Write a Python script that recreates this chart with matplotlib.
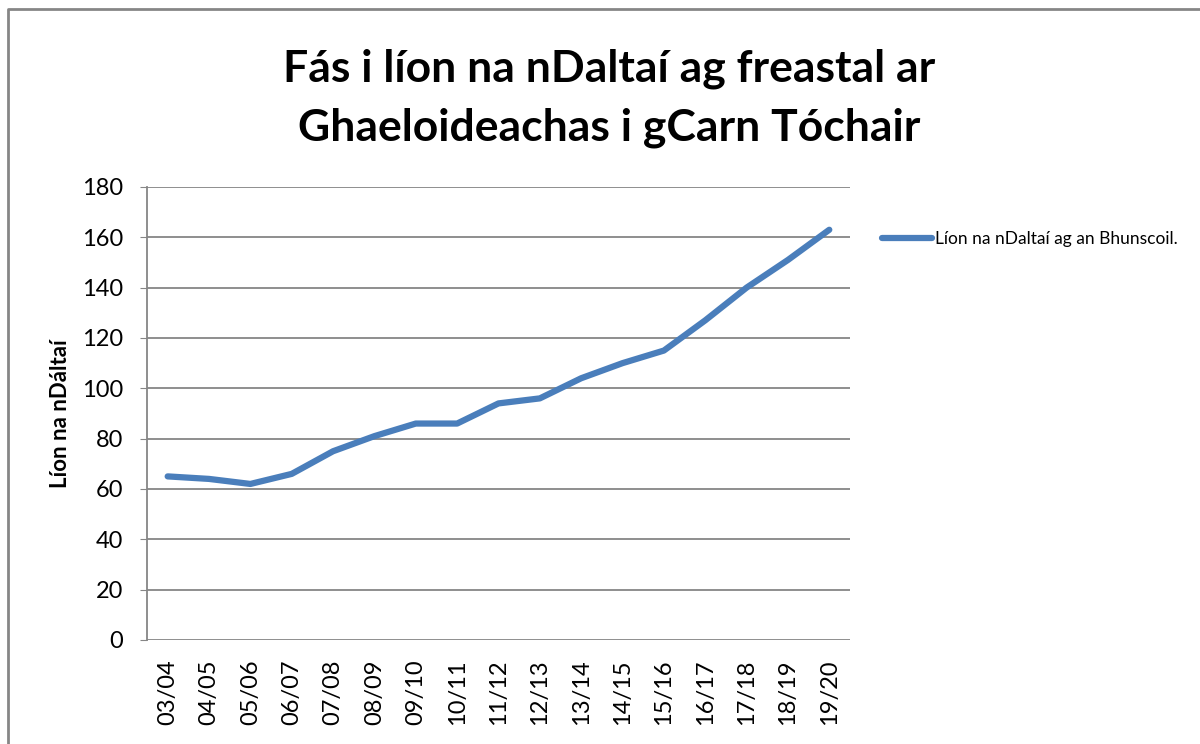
import matplotlib
matplotlib.use('Agg')
import matplotlib.pyplot as plt
from matplotlib.lines import Line2D

plt.rcParams['font.family'] = ['Lato', 'DejaVu Sans']

years = ['03/04', '04/05', '05/06', '06/07', '07/08', '08/09', '09/10', '10/11',
         '11/12', '12/13', '13/14', '14/15', '15/16', '16/17', '17/18', '18/19', '19/20']
pupils = [65, 64, 62, 66, 75, 81, 86, 86, 94, 96, 104, 110, 115, 127, 140, 151, 163]
series_name = 'Líon na nDaltaí ag an Bhunscoil.'
title = 'Fás i líon na nDaltaí ag freastal ar\nGhaeloideachas i gCarn Tóchair'
ylabel = 'Líon na nDáltaí'

fig = plt.figure(figsize=(12, 7.44), dpi=100)
ax = fig.add_axes([0.1225, 0.1398, 0.5858, 0.6089])

x = range(len(years))
ax.plot(x, pupils, color='#4a7ebb', linewidth=4.5, solid_capstyle='round',
        solid_joinstyle='round', label=series_name)

ax.set_xlim(-0.5, len(years) - 0.5)
ax.set_ylim(0, 180)
ax.set_yticks(range(0, 181, 20))
ax.set_xticks(list(x))
ax.set_xticklabels(years, rotation=90, fontsize=17)
ax.tick_params(axis='y', labelsize=17, length=5, color='#868686', pad=12)
ax.tick_params(axis='x', length=0, pad=14)
ax.yaxis.grid(True, color='#868686', linewidth=1.3)
ax.set_axisbelow(True)
for side in ['top', 'right', 'bottom']:
    ax.spines[side].set_visible(False)
ax.spines['left'].set_color('#868686')
ax.spines['left'].set_linewidth(1.3)

ax.set_ylabel(ylabel, fontsize=16, fontweight='bold', labelpad=8)

fig.text(0.508, 0.935, title, ha='center', va='top', fontsize=32,
         fontweight='bold', linespacing=1.55)

fig.legend(loc='upper left', bbox_to_anchor=(0.722, 0.71), frameon=False,
           fontsize=12.5, handlelength=2.9, handletextpad=0.15)

# outer chart border
fig.add_artist(Line2D([0.0065, 0.0065, 1.0], [0.0, 0.988, 0.988],
                      transform=fig.transFigure, color='#868686', linewidth=2))

fig.savefig('out.png', dpi=100)
